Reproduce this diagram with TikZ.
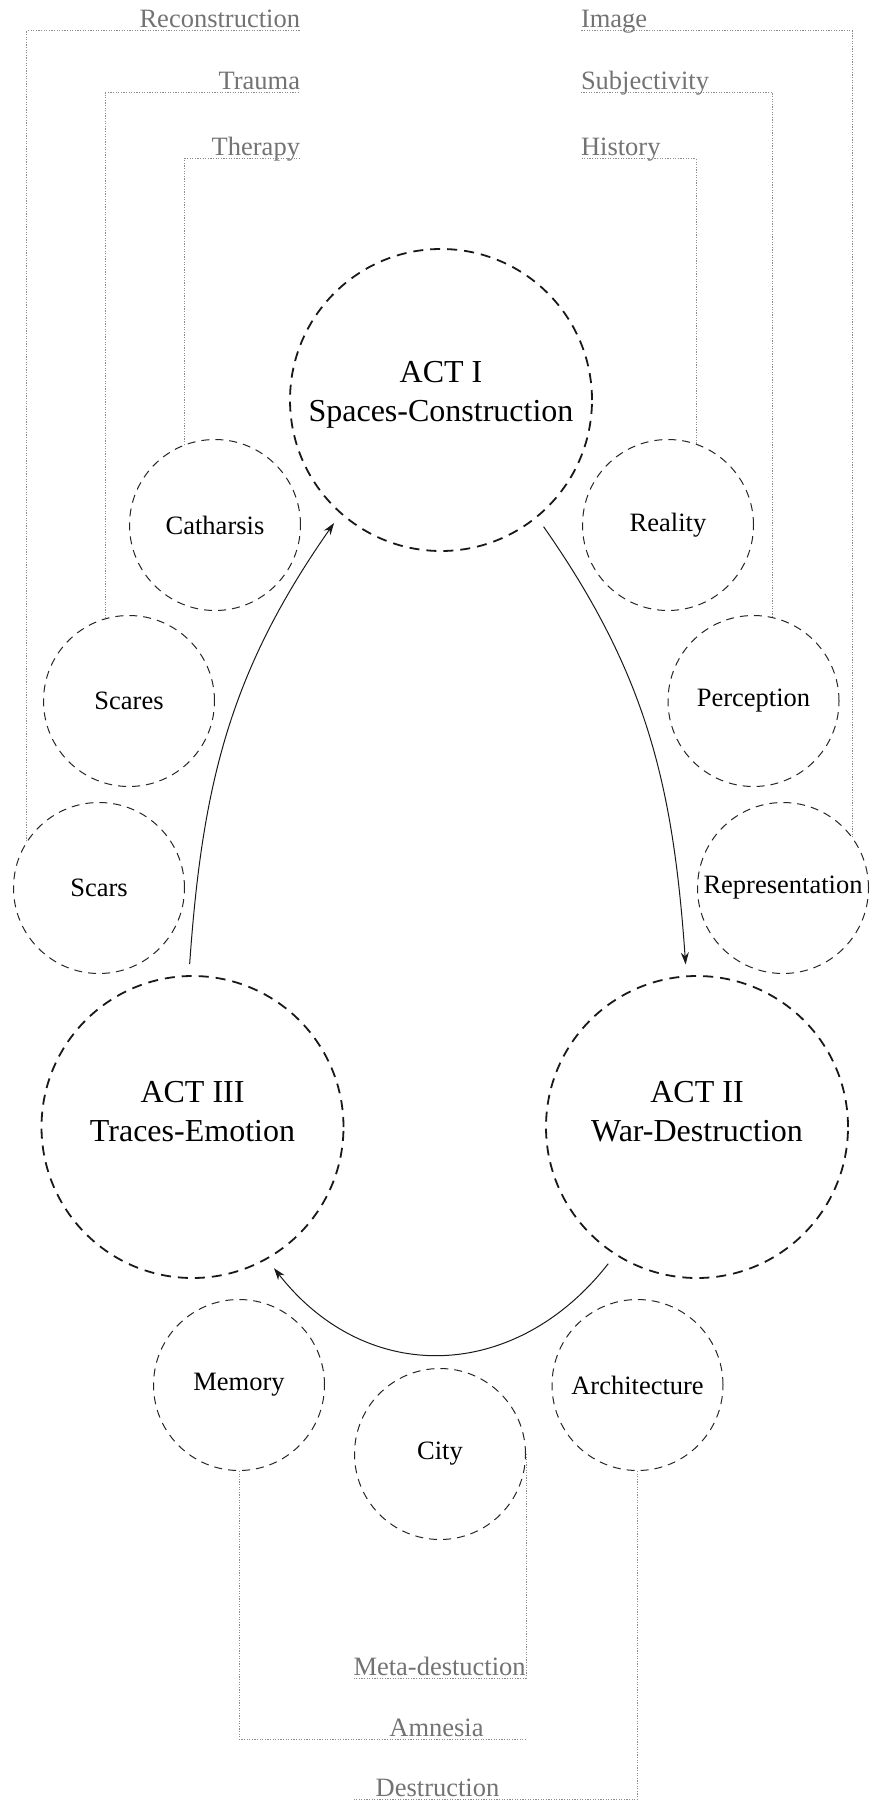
\documentclass[tikz,border=0pt]{standalone}
\usepackage{fontspec}
\setmainfont{Liberation Serif}
\usetikzlibrary{arrows.meta,calc,positioning}
\newdimen\bigdim
\newdimen\smalldim
\bigdim=151pt
\smalldim=85.5pt
\tikzstyle{act}=[
  circle,
  draw=black!90,
  line width=0.9pt,
  dash pattern=on 5pt off 3.5pt,
  minimum size=\bigdim,
  inner sep=0pt,
  outer sep=6pt,
  align=center,
  text depth=9pt,
  font={\fontsize{16}{19.5}\selectfont},
]
\tikzstyle{theme}=[
  circle,
  draw=black!85,
  line width=0.5pt,
  dash pattern=on 4pt off 3pt,
  minimum size=\smalldim,
  inner sep=0pt,
  font={\fontsize{13.25}{16}\selectfont},
]
\tikzstyle{keyword}=[
  text=black!55,
  font={\fontsize{13.25}{16}\selectfont},
  inner xsep=0pt,
  inner ysep=1.5pt,
  text depth=0pt,
  outer sep=0pt,
]
\tikzstyle{arrow}=[
  ->,
  draw=black!90,
  line width=0.5pt,
]
\tikzstyle{link}=[
  draw=black!45,
  line width=0.5pt,
  dash pattern=on 0.6pt off 0.7pt,
]
\tikzset{
  >={Stealth[length=6pt,width=4pt]},
}
\begin{document}
\begin{tikzpicture}[x=0.5pt,y=-0.5pt]
      \useasboundingbox (0,0) rectangle (872,1803);
      %% acts
      \node (act1) [act] at (441,400) {ACT I\\Spaces-Construction};
      \node (act2) [act, text depth=16pt] at (697,1127) {ACT II\\War-Destruction};
      \node (act3) [act, text depth=16pt] at (192.5,1127) {ACT III\\Traces-Emotion};
      %% themes
      \node (catharsis) [theme] at (215,525) {Catharsis};
      \node (scares) [theme] at (129,701) {Scares};
      \node (scars) [theme] at (99,888) {Scars};
      \node (reality) [theme] at (668,525) {Reality};
      \node (perception) [theme] at (753.5,701) {Perception};
      \node (representation) [theme] at (783,888) {Representation};
      \node (memory) [theme] at (239,1385) {Memory};
      \node (city) [theme] at (440,1454) {City};
      \node (architecture) [theme] at (637.5,1385) {Architecture};
      %% keywords
      \node (reconstruction) [keyword, anchor=south east] at (300,31) {Reconstruction};
      \node (trauma) [keyword, anchor=south east] at (300,93) {Trauma};
      \node (therapy) [keyword, anchor=south east] at (300,159) {Therapy};
      \node (image) [keyword, anchor=south west] at (581,31) {Image};
      \node (subjectivity) [keyword, anchor=south west] at (581,93) {Subjectivity};
      \node (history) [keyword, anchor=south west] at (581,159) {History};
      \node (metadest) [keyword, anchor=south east] at (525.7,1678) {Meta-destuction};
      \node (amnesia) [keyword, anchor=south] at (436.5,1739) {Amnesia};
      \node (destruction) [keyword, anchor=south] at (437.5,1799) {Destruction};
      %%
      \draw [arrow] (act1.-51) to[out=-55, in=94] (act2.94);
      \draw [arrow] (act2.237) to[out=-128, in=-52, looseness=1.15] (act3.-60);
      \draw [arrow] (act3.91) to[out=86, in=235] (act1.229);
      %%
      \draw [link] (scars.147) |- (reconstruction.south east);
      \draw [link] (scares.106) |- (trauma.south east);
      \draw [link] (catharsis.111) |- (therapy.south east);
      \draw [link] (representation.36) |- (image.south west);
      \draw [link] (perception.77) |- (subjectivity.south west);
      \draw [link] (reality.71) |- (history.south west);
      \draw [link] (city.east) |- (metadest.south west);
      \draw [link] (memory.south) |- (amnesia.south -| city.east);
      \draw [link] (architecture.south) |- ([xshift=-11pt]destruction.south west);
    \end{tikzpicture}
\end{document}
